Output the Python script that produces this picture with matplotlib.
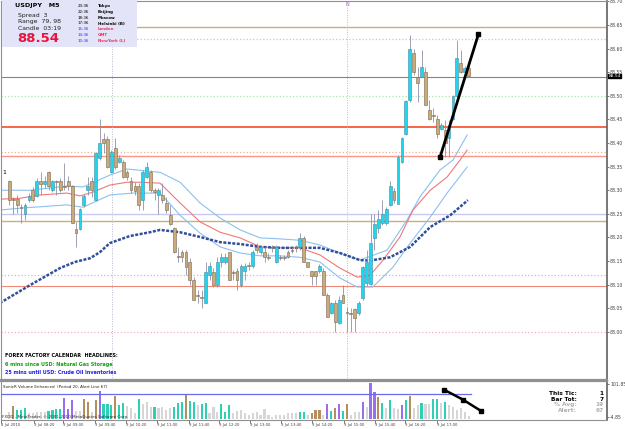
import numpy as np
import matplotlib
matplotlib.use("Agg")
import matplotlib.pyplot as plt
import matplotlib.patches as mpatches

# ---- chart data (USDJPY M5) ----
opens  = [88.319, 88.281, 88.281, 88.264, 88.250, 88.279, 88.300, 88.288, 88.319, 88.313,
          88.338, 88.300, 88.319, 88.319, 88.309, 88.319, 88.309, 88.218, 88.218, 88.269,
          88.300, 88.319, 88.279, 88.368, 88.408, 88.408, 88.338, 88.389, 88.360, 88.360,
          88.338, 88.319, 88.309, 88.309, 88.279, 88.328, 88.338, 88.300, 88.290, 88.290,
          88.273, 88.247, 88.220, 88.161, 88.169, 88.169, 88.148, 88.110, 88.078, 88.074,
          88.061, 88.120, 88.127, 88.099, 88.148, 88.148, 88.169, 88.127, 88.129, 88.099,
          88.129, 88.141, 88.139, 88.180, 88.169, 88.169, 88.158, 88.180, 88.148, 88.158,
          88.158, 88.169, 88.173, 88.180, 88.180, 88.199, 88.148, 88.129, 88.129, 88.129,
          88.129, 88.078, 88.040, 88.061, 88.019, 88.078, 88.042, 88.040, 88.048, 88.040,
          88.072, 88.103, 88.101, 88.199, 88.220, 88.230, 88.230, 88.269, 88.298, 88.271,
          88.360, 88.419, 88.491, 88.591, 88.540, 88.540, 88.550, 88.470, 88.459, 88.451,
          88.430, 88.428, 88.411, 88.451, 88.500, 88.570, 88.550, 88.559]
highs  = [88.322, 88.286, 88.290, 88.271, 88.273, 88.294, 88.307, 88.326, 88.338, 88.330,
          88.341, 88.322, 88.322, 88.326, 88.358, 88.330, 88.311, 88.233, 88.262, 88.292,
          88.328, 88.328, 88.381, 88.451, 88.421, 88.415, 88.385, 88.411, 88.375, 88.364,
          88.343, 88.328, 88.317, 88.315, 88.343, 88.360, 88.343, 88.305, 88.305, 88.315,
          88.286, 88.269, 88.222, 88.180, 88.173, 88.173, 88.156, 88.116, 88.088, 88.088,
          88.148, 88.148, 88.135, 88.158, 88.167, 88.167, 88.169, 88.131, 88.135, 88.144,
          88.146, 88.148, 88.173, 88.188, 88.184, 88.180, 88.167, 88.184, 88.184, 88.163,
          88.163, 88.173, 88.180, 88.184, 88.209, 88.203, 88.148, 88.129, 88.129, 88.144,
          88.135, 88.082, 88.063, 88.067, 88.076, 88.099, 88.052, 88.050, 88.050, 88.065,
          88.139, 88.173, 88.250, 88.250, 88.258, 88.279, 88.264, 88.319, 88.305, 88.375,
          88.413, 88.491, 88.629, 88.599, 88.561, 88.597, 88.561, 88.491, 88.474, 88.459,
          88.442, 88.449, 88.449, 88.502, 88.618, 88.597, 88.563, 88.565]
lows   = [88.269, 88.250, 88.252, 88.230, 88.237, 88.275, 88.275, 88.286, 88.290, 88.305,
          88.300, 88.296, 88.290, 88.296, 88.300, 88.300, 88.230, 88.180, 88.216, 88.264,
          88.290, 88.286, 88.277, 88.364, 88.379, 88.347, 88.336, 88.345, 88.358, 88.326,
          88.322, 88.294, 88.290, 88.258, 88.258, 88.326, 88.296, 88.279, 88.250, 88.273,
          88.252, 88.226, 88.167, 88.148, 88.148, 88.120, 88.099, 88.067, 88.061, 88.050,
          88.061, 88.110, 88.095, 88.095, 88.137, 88.144, 88.110, 88.110, 88.088, 88.095,
          88.110, 88.131, 88.135, 88.167, 88.165, 88.148, 88.152, 88.169, 88.146, 88.152,
          88.152, 88.156, 88.167, 88.169, 88.173, 88.148, 88.137, 88.099, 88.099, 88.124,
          88.078, 88.031, 88.038, 87.999, 88.016, 88.061, 87.999, 87.999, 87.999, 88.036,
          88.067, 88.097, 88.099, 88.173, 88.209, 88.226, 88.226, 88.266, 88.273, 88.271,
          88.358, 88.417, 88.487, 88.544, 88.487, 88.540, 88.480, 88.449, 88.444, 88.411,
          88.428, 88.370, 88.370, 88.449, 88.497, 88.548, 88.548, 88.540]
closes = [88.279, 88.279, 88.269, 88.262, 88.269, 88.288, 88.279, 88.319, 88.313, 88.319,
          88.309, 88.319, 88.317, 88.300, 88.307, 88.309, 88.230, 88.209, 88.260, 88.288,
          88.309, 88.300, 88.379, 88.400, 88.400, 88.349, 88.381, 88.349, 88.368, 88.328,
          88.328, 88.300, 88.298, 88.269, 88.338, 88.349, 88.300, 88.296, 88.300, 88.279,
          88.258, 88.228, 88.169, 88.158, 88.158, 88.137, 88.110, 88.067, 88.076, 88.072,
          88.127, 88.139, 88.099, 88.148, 88.158, 88.158, 88.110, 88.124, 88.110, 88.139,
          88.139, 88.139, 88.169, 88.173, 88.180, 88.158, 88.156, 88.178, 88.180, 88.156,
          88.156, 88.158, 88.171, 88.178, 88.199, 88.148, 88.137, 88.118, 88.118, 88.139,
          88.078, 88.031, 88.061, 88.021, 88.067, 88.061, 88.040, 88.038, 88.029, 88.061,
          88.137, 88.148, 88.188, 88.228, 88.239, 88.250, 88.260, 88.309, 88.279, 88.370,
          88.411, 88.489, 88.599, 88.550, 88.527, 88.561, 88.480, 88.451, 88.457, 88.419,
          88.438, 88.400, 88.438, 88.500, 88.580, 88.550, 88.559, 88.542]

# moving averages, sampled at bar positions
ma_fast_x = [-2.4, 2.7, 7.8, 14.7, 18.0, 21.3, 25.6, 30.0, 33.3, 38.4, 43.5, 48.6, 53.7, 58.8,
             63.9, 68.9, 74.0, 79.1, 84.2, 88.6, 91.9, 95.2, 99.5, 102.8, 107.2, 111.5, 114.8, 116.6]
ma_fast   = [88.281, 88.283, 88.290, 88.294, 88.288, 88.296, 88.311, 88.317, 88.317, 88.315,
             88.273, 88.233, 88.211, 88.199, 88.180, 88.178, 88.178, 88.163, 88.135, 88.116,
             88.120, 88.152, 88.201, 88.258, 88.300, 88.328, 88.364, 88.385]
band_up_x = [-2.4, 5.3, 14.7, 18.8, 25.6, 30.0, 38.4, 43.5, 48.6, 53.7, 58.8, 63.9, 68.9, 74.0,
             79.1, 84.2, 89.3, 96.2, 101.3, 104.6, 109.7, 113.0, 116.6]
band_up   = [88.300, 88.300, 88.309, 88.307, 88.332, 88.345, 88.338, 88.317, 88.273, 88.241,
             88.216, 88.199, 88.197, 88.194, 88.184, 88.167, 88.152, 88.173, 88.237, 88.286,
             88.343, 88.364, 88.417]
band_lo_x = [-2.4, 2.7, 14.7, 18.8, 25.6, 31.5, 38.4, 43.5, 48.6, 53.7, 58.8, 63.9, 68.9, 74.0,
             79.1, 84.2, 88.6, 92.6, 97.7, 102.1, 107.2, 111.5, 116.6]
band_lo   = [88.258, 88.262, 88.269, 88.264, 88.290, 88.294, 88.294, 88.247, 88.209, 88.180,
             88.167, 88.161, 88.161, 88.158, 88.148, 88.114, 88.095, 88.095, 88.137, 88.188,
             88.243, 88.294, 88.349]
ma_slow_x = [-2.4, 5.3, 12.9, 16.7, 20.6, 23.1, 25.6, 30.7, 35.8, 38.4, 43.5, 48.6, 53.7, 58.8,
             63.9, 68.9, 74.0, 79.1, 84.2, 89.3, 91.9, 97.0, 102.1, 107.2, 112.3, 116.8]
ma_slow   = [88.061, 88.099, 88.135, 88.148, 88.156, 88.169, 88.188, 88.203, 88.211, 88.216,
             88.211, 88.201, 88.190, 88.186, 88.180, 88.178, 88.178, 88.178, 88.167, 88.152,
             88.151, 88.158, 88.180, 88.222, 88.247, 88.279]

# horizontal levels drawn across the chart
level_prices = [88.646, 88.620, 88.540, 88.500, 88.434, 88.380, 88.372, 88.249, 88.235, 88.120, 88.097, 88.000]
level_colors = ['#c8b078', '#f0b8a8', '#8080a0', '#a8e8a8', '#f85838', '#f0b0a0', '#f89888',
                '#c8c8f0', '#c8b078', '#c0c0c0', '#f08878', '#f0b0c0']
level_styles = ['-', ':', '-', ':', '-', ':', '-', '-', '-', ':', '-', ':']
level_widths = [1.0, 0.9, 0.8, 0.9, 1.3, 0.9, 1.0, 1.0, 1.0, 0.9, 0.8, 0.9]

trend_x = [109.7, 119.5]
trend_y = [88.370, 88.631]
vsep_x  = [26.1, 86.1]

# Sonic volume histogram (ticks per bar) and colour class per bar
volume  = [20, 35, 24, 24, 29, 17, 15, 18, 20, 18,
           22, 24, 26, 26, 58, 28, 51, 22, 22, 54,
           47, 20, 51, 76, 40, 40, 37, 62, 37, 44,
           35, 29, 17, 54, 42, 47, 33, 33, 29, 33,
           24, 29, 33, 43, 47, 64, 49, 47, 37, 42,
           44, 15, 33, 20, 42, 20, 38, 17, 22, 24,
           17, 11, 15, 20, 11, 26, 12, 6, 11, 12,
           12, 15, 17, 15, 20, 20, 11, 17, 24, 24,
           11, 42, 22, 31, 40, 22, 42, 12, 20, 20,
           45, 33, 97, 73, 60, 44, 29, 51, 29, 26,
           37, 51, 62, 29, 37, 44, 40, 42, 53, 53,
           44, 46, 37, 33, 24, 30, 20, 7]
vol_class = ("gbtttggggg" "ttttpppggb" "bgbptttbtt" "gggtgggtgg" "ggtttbttgt"
             "tgggtttggg" "gggggggggg" "ggggttgbbb" "gptbptbggg" "pgppbtgtgg"
             "ptbggtggtt" "gtgggggg")
vol_x_trend = [110.7, 115.5, 120.1]
vol_y_trend = [79.6, 52.8, 22.2]
alert_level = 67

tick_idx    = [-2.1, 6.2, 13.7, 21.8, 29.7, 37.6, 45.8, 53.4, 61.3, 69.2, 77.1, 85.3, 93.2, 100.8, 108.9]
tick_labels = ['8 Jul 2010', '9 Jul 08:20', '9 Jul 09:00', '9 Jul 09:40', '9 Jul 10:20',
               '9 Jul 11:00', '9 Jul 11:40', '9 Jul 12:20', '9 Jul 13:00', '9 Jul 13:40',
               '9 Jul 14:20', '9 Jul 15:00', '9 Jul 15:40', '9 Jul 16:20', '9 Jul 17:00']

W, H = 625, 429
def fx(x): return x / W
def fy(y): return 1 - y / H

fig = plt.figure(figsize=(W / 100, H / 100), dpi=100)
fig.patch.set_facecolor('white')

# ---------------- main price panel ----------------
ax = fig.add_axes([fx(1), fy(379.5), (606.5 - 1) / W, (379.5 - 1) / H])
ax.set_xlim(-2.11, 152.1)
ax.set_ylim(87.899, 88.701)

for p, c, s, w in zip(level_prices, level_colors, level_styles, level_widths):
    ax.axhline(p, color=c, ls=s, lw=w, zorder=1)
for xv in vsep_x:
    ax.axvline(xv, color='#b8b8d0', ls=(0, (1, 1.5)), lw=0.7, zorder=1)

ax.plot(band_up_x, band_up, color='#8cc0f0', lw=0.8, zorder=2)
ax.plot(band_lo_x, band_lo, color='#8cc0f0', lw=0.8, zorder=2)
ax.plot(ma_fast_x, ma_fast, color='#f07878', lw=0.8, zorder=2)
ax.plot(ma_slow_x, ma_slow, color='#2f4f9c', lw=1.8, ls=(0, (1.2, 0.6)), zorder=2)

o = np.array(opens); c = np.array(closes)
hi = np.array(highs); lo = np.array(lows)
idx = np.arange(len(o))
bull = c >= o
ax.vlines(idx, lo, hi, color='#9090a6', lw=0.6, zorder=3)
body_h = np.maximum(np.abs(c - o), 0.0012)
ax.bar(idx[bull], body_h[bull], bottom=np.minimum(o, c)[bull], width=0.72,
       color='#1ed6ee', edgecolor='#4a8aa0', lw=0.4, zorder=4)
ax.bar(idx[~bull], body_h[~bull], bottom=np.minimum(o, c)[~bull], width=0.72,
       color='#c9ab7c', edgecolor='#7a6850', lw=0.4, zorder=4)

ax.plot(trend_x, trend_y, color='black', lw=2.0, zorder=6)
ax.plot(trend_x, trend_y, ls='none', marker='s', ms=2.5, color='black', zorder=6)

ax.yaxis.tick_right()
ax.set_yticks(np.arange(88.0, 88.701, 0.05))
ax.set_yticklabels(['%.2f' % v for v in np.arange(88.0, 88.701, 0.05)])
ax.tick_params(axis='y', labelsize=3.3, length=1.5, width=0.5, pad=1, colors='#404040')
ax.set_xticks([])
for sp in ['left', 'top']:
    ax.spines[sp].set_color('#909090'); ax.spines[sp].set_linewidth(0.8)
ax.spines['right'].set_color('#606060'); ax.spines['right'].set_linewidth(1.2)
ax.spines['bottom'].set_color('#909090'); ax.spines['bottom'].set_linewidth(1.6)

# current price marker on the axis
ax.text(1.003, closes[-1], '%.2f' % closes[-1], transform=ax.get_yaxis_transform(),
        fontsize=3.2, color='white', va='center', ha='left', zorder=8,
        bbox=dict(boxstyle='square,pad=0.08', fc='black', ec='black'))

# ---------------- volume panel ----------------
av = fig.add_axes([fx(1), fy(420), (606.5 - 1) / W, (420 - 380.5) / H])
av.set_xlim(-2.11, 152.1)
av.set_ylim(-2.7, 104.5)
vcols = {'g': '#d6d6d6', 't': '#2ed0b4', 'b': '#b48e5e', 'p': '#9a6ef0'}
vi = np.arange(len(volume))
av.bar(vi, volume, width=0.55, color=[vcols[k] for k in vol_class], zorder=2)
av.axhline(alert_level, xmax=(117.5 + 2.11) / 154.21, color='#6a6af0', lw=0.9, zorder=3)
av.plot(vol_x_trend, vol_y_trend, color='black', lw=1.8, zorder=5)
av.plot(vol_x_trend, vol_y_trend, ls='none', marker='s', ms=2.5, color='black', zorder=5)
av.yaxis.tick_right()
av.set_yticks([93.8, 6.2])
av.set_yticklabels(['101.85', '-4.85'])
av.tick_params(axis='y', labelsize=3.3, length=1.5, width=0.5, pad=1, colors='#404040')
av.set_xticks(tick_idx)
av.set_xticklabels(tick_labels, ha='left')
av.tick_params(axis='x', labelsize=2.7, length=2, width=0.5, pad=0.5, colors='#404040')
for sp in ['left', 'bottom']:
    av.spines[sp].set_color('#909090'); av.spines[sp].set_linewidth(0.8)
av.spines['top'].set_color('#909090'); av.spines['top'].set_linewidth(1.6)
av.spines['right'].set_color('#606060'); av.spines['right'].set_linewidth(1.2)

av.text(0.004, 0.84, 'SonicR Volume Enhanced  (Period 20, Alert Line 67)', transform=av.transAxes,
        fontsize=2.9, color='#202020', va='center')
av.text(0.002, 0.08, 'FXDD - MetaTrader, \u00a9 2001-2010 MetaQuotes Software Corp.', transform=av.transAxes,
        fontsize=3.0, color='#303030', va='center')

side_lab = ['This Tic:', 'Bar Tot:', '% Avg:', 'Alert:']
side_val = ['1', '7', '19', '67']
side_col = ['black', 'black', '#b0b0b0', '#b0b0b0']
for k, (lb, vv, cc) in enumerate(zip(side_lab, side_val, side_col)):
    yy = 393.3 + k * 5.8
    fig.text(fx(577), fy(yy), lb, fontsize=4.2, fontweight='bold', color=cc, ha='right', va='center')
    fig.text(fx(604), fy(yy), vv, fontsize=4.2, fontweight='bold', color=cc, ha='right', va='center')

# ---------------- info box top-left ----------------
fig.patches.append(mpatches.Rectangle((fx(2), fy(46.7)), (137 - 2) / W, 46.7 / H,
                                      transform=fig.transFigure, fc='#e4e4f8', ec='none', zorder=0))
fig.text(fx(15), fy(6), 'USDJPY   M5', fontsize=4.6, fontweight='bold', color='black', va='center')
fig.text(fx(18), fy(15), 'Spread  3', fontsize=4.4, color='#202020', va='center')
fig.text(fx(18), fy(22), 'Range  79, 98', fontsize=4.4, color='#202020', va='center')
fig.text(fx(18), fy(29), 'Candle  03:19', fontsize=4.4, color='#202020', va='center')
fig.text(fx(17), fy(38.5), '%.2f' % closes[-1], fontsize=9.5, fontweight='bold', color='#e8143c', va='center')

clock_t = ['23:36', '22:36', '18:36', '17:36', '15:36', '14:36', '10:36']
clock_c = ['Tokyo', 'Beijing', 'Moscow', 'Helsinki (B)', 'London', 'GMT', 'NewYork (L)']
for k, (t, cty) in enumerate(zip(clock_t, clock_c)):
    yy = 5.8 + k * 5.9
    tc = 'black' if k < 4 else '#3030f0'
    cc = 'black' if k < 4 else '#f03060'
    fig.text(fx(78), fy(yy), t, fontsize=2.9, color=tc, va='center')
    fig.text(fx(98), fy(yy), cty, fontsize=2.9, fontweight='bold', color=cc, va='center')

# ---------------- calendar headlines ----------------
fig.text(fx(5), fy(355.5), 'FOREX FACTORY CALENDAR  HEADLINES:', fontsize=3.5, fontweight='bold',
         color='black', va='center')
fig.text(fx(5), fy(364.8), '6 mins since USD: Natural Gas Storage', fontsize=3.5, fontweight='bold',
         color='#10a010', va='center')
fig.text(fx(5), fy(372.3), '25 mins until USD: Crude Oil Inventories', fontsize=3.5, fontweight='bold',
         color='#2020e0', va='center')

fig.text(fx(2), fy(172), '1', fontsize=4.5, color='black', va='center')
fig.text(fx(347.5), fy(5), 'N', fontsize=3.5, color='#a060d0', ha='center', va='center')

fig.savefig('out.png', dpi=100, facecolor='white')
